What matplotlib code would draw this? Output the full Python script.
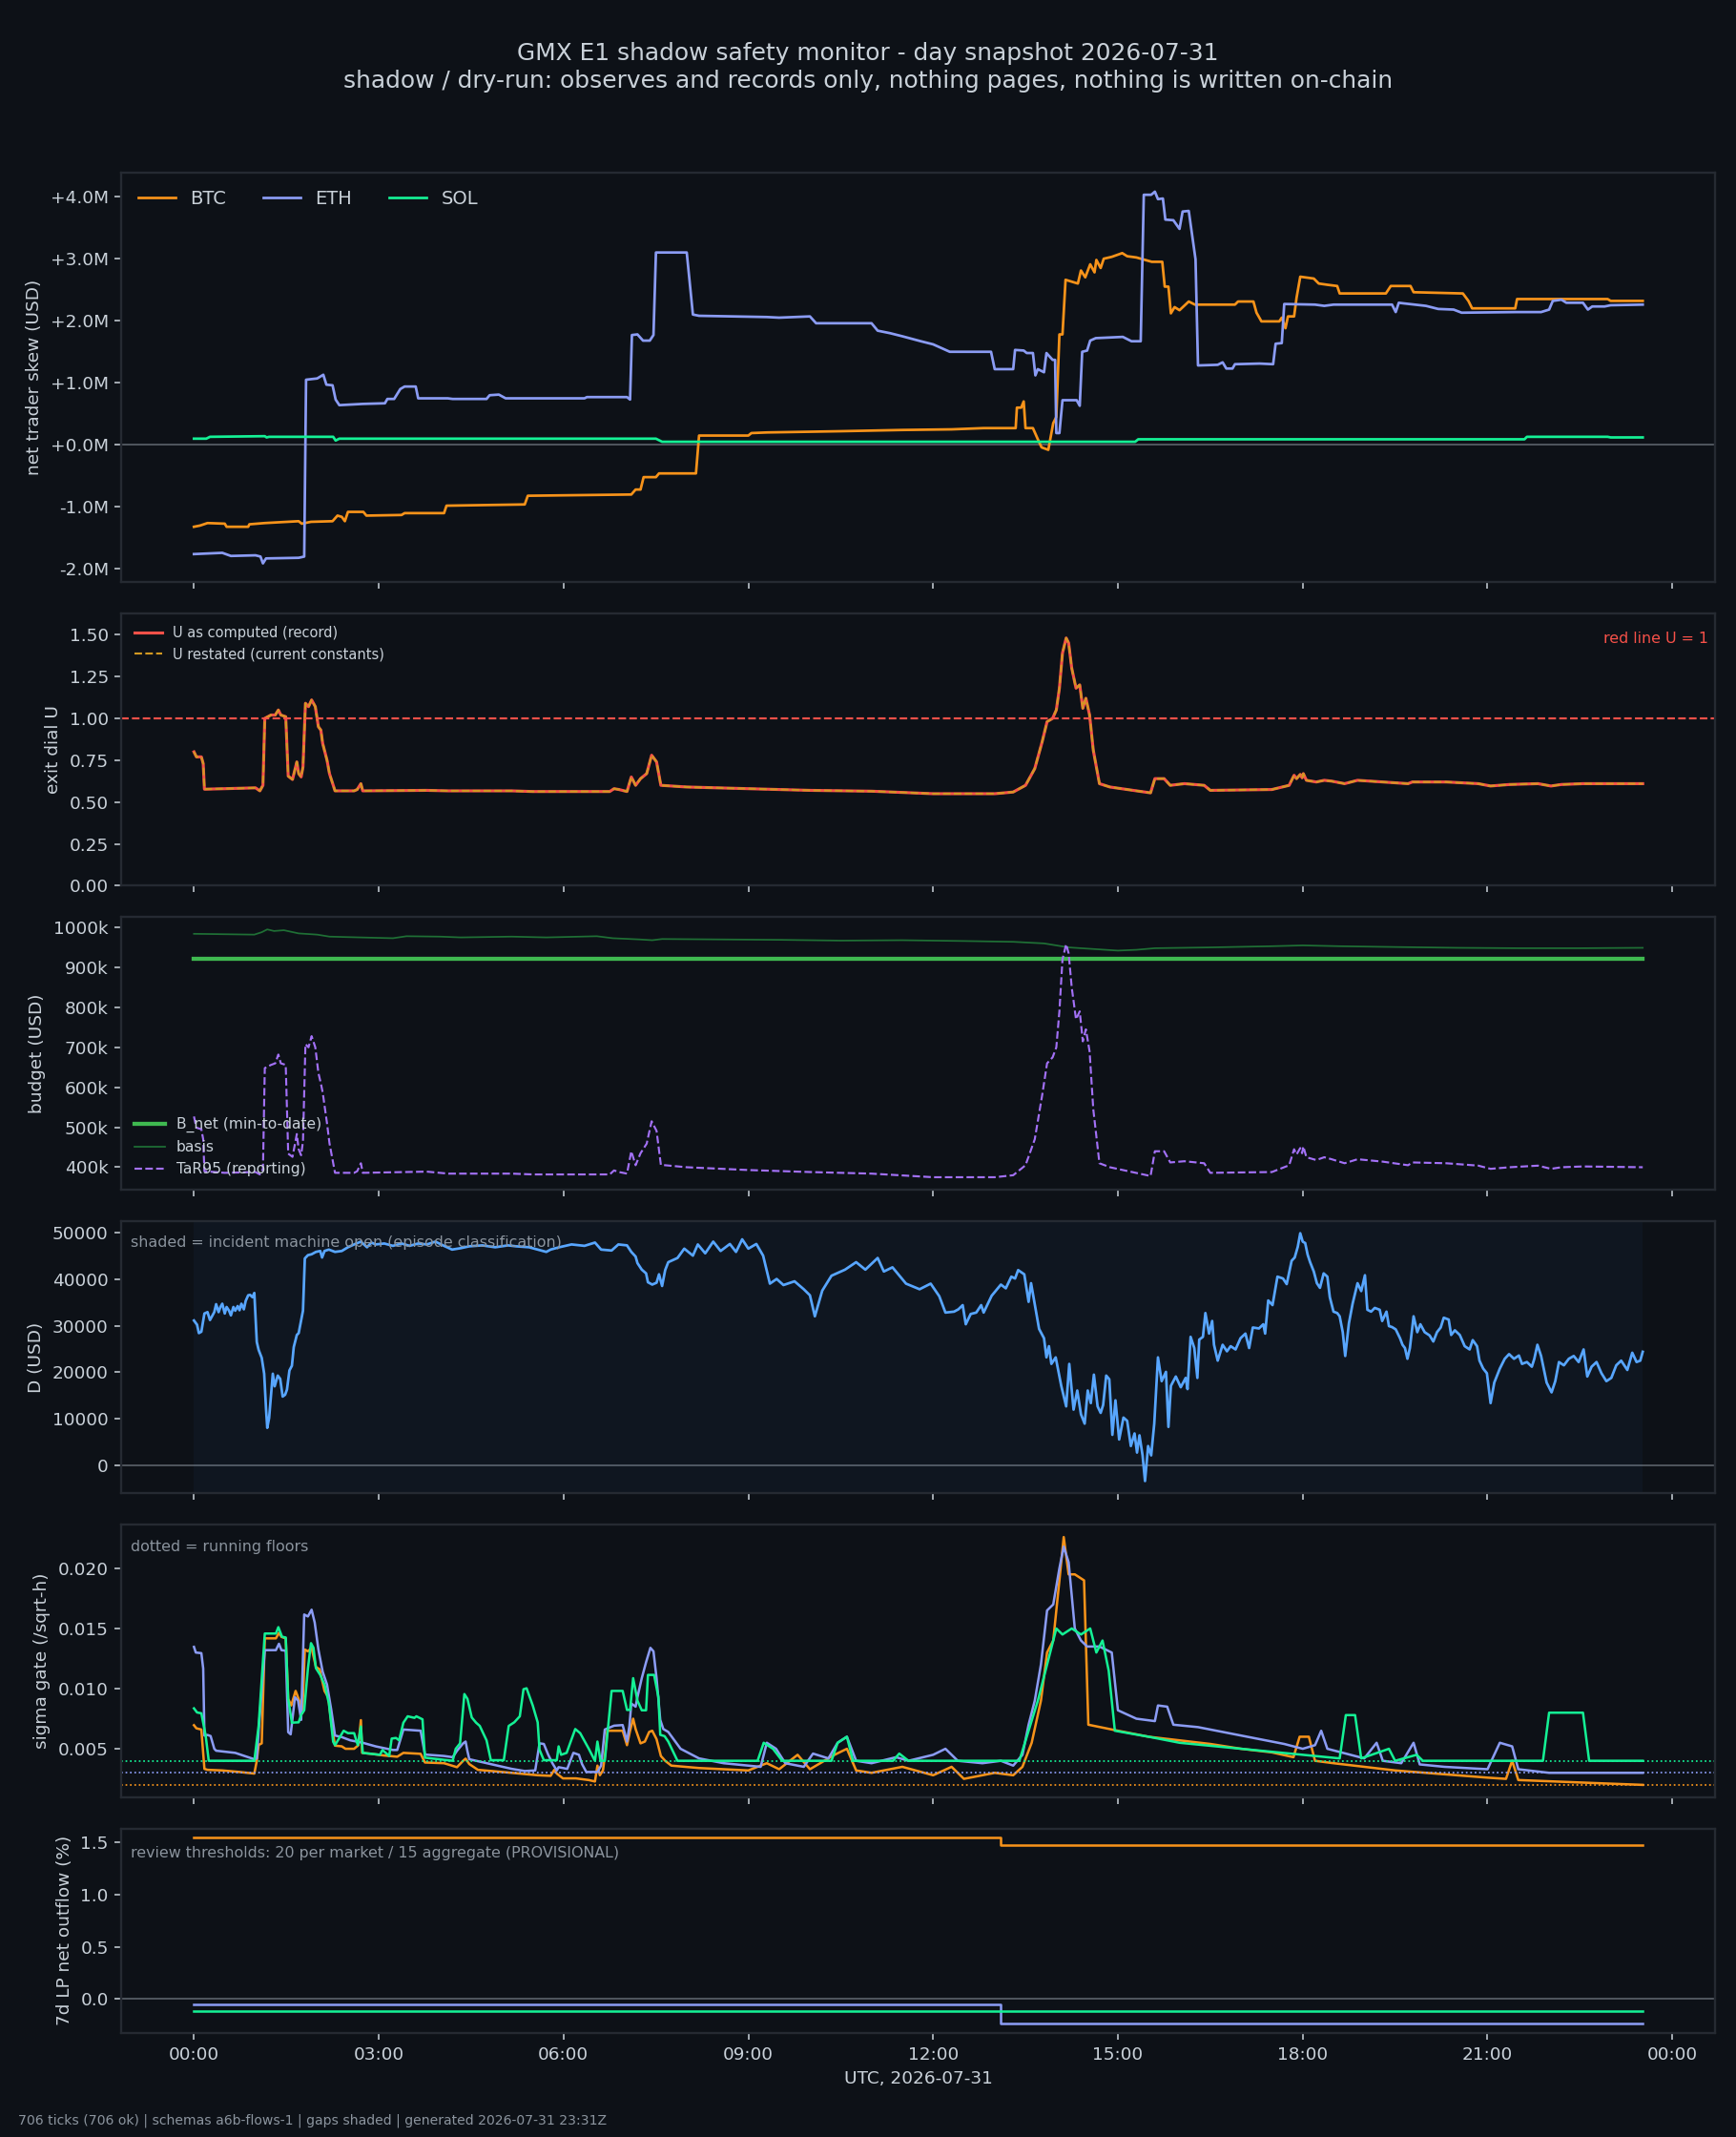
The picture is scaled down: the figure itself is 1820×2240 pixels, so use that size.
import numpy as np
import matplotlib
matplotlib.use("Agg")
import matplotlib.pyplot as plt
from matplotlib.ticker import MultipleLocator, FuncFormatter

# ---- colours
BG = '#0d1117'
FG = '#c9d1d9'
MUTED = '#8b949e'
SPINE = '#252a32'
ZERO = '#585e66'
C_BTC = '#f7931a'
C_ETH = '#8b9cf4'
C_SOL = '#14f195'

# ---- panel 1: net trader skew (hours, USD millions)
btc_skew = [(0, -1.32), (0.1, -1.30), (0.22, -1.26), (0.5, -1.27), (0.53, -1.32), (0.88, -1.32),
            (0.9, -1.28), (1.15, -1.26), (1.7, -1.23), (1.75, -1.27), (1.9, -1.24), (2.25, -1.23),
            (2.33, -1.14), (2.4, -1.16), (2.45, -1.23), (2.5, -1.08), (2.75, -1.08), (2.8, -1.14),
            (3.37, -1.13), (3.42, -1.10), (4.06, -1.10), (4.1, -0.98), (5.37, -0.96), (5.42, -0.82),
            (7.1, -0.80), (7.17, -0.72), (7.25, -0.72), (7.3, -0.52), (7.5, -0.52), (7.55, -0.46),
            (8.15, -0.46), (8.2, 0.15), (9.0, 0.15), (9.05, 0.19), (9.3, 0.20), (10.5, 0.22),
            (11.5, 0.24), (12.3, 0.25), (12.82, 0.27), (13.34, 0.27), (13.36, 0.60), (13.43, 0.60),
            (13.47, 0.70), (13.5, 0.27), (13.62, 0.27), (13.7, 0.09), (13.76, -0.04), (13.87, -0.08),
            (13.95, 0.35), (14.0, 0.45), (14.05, 1.78), (14.1, 1.78), (14.15, 2.66), (14.35, 2.60),
            (14.4, 2.81), (14.47, 2.70), (14.55, 2.91), (14.62, 2.78), (14.65, 2.98), (14.72, 2.85),
            (14.77, 3.00), (14.9, 3.03), (15.07, 3.09), (15.15, 3.04), (15.3, 3.02), (15.55, 2.95),
            (15.72, 2.95), (15.76, 2.55), (15.82, 2.55), (15.86, 2.12), (15.92, 2.22), (16.0, 2.17),
            (16.15, 2.31), (16.25, 2.26), (16.9, 2.26), (16.95, 2.31), (17.2, 2.31), (17.25, 2.13),
            (17.33, 1.99), (17.62, 1.99), (17.66, 2.05), (17.72, 1.88), (17.76, 2.07), (17.86, 2.07),
            (17.9, 2.37), (17.96, 2.71), (18.18, 2.68), (18.26, 2.60), (18.4, 2.58), (18.56, 2.56),
            (18.6, 2.44), (19.35, 2.44), (19.43, 2.56), (19.75, 2.56), (19.8, 2.46), (20.6, 2.44),
            (20.69, 2.32), (20.75, 2.20), (21.45, 2.20), (21.48, 2.35), (22.95, 2.35), (23.0, 2.32),
            (23.52, 2.32)]
eth_skew = [(0, -1.76), (0.46, -1.74), (0.6, -1.79), (1.0, -1.78), (1.08, -1.80), (1.12, -1.91),
            (1.17, -1.83), (1.7, -1.82), (1.79, -1.80), (1.82, 1.05), (2.0, 1.07), (2.1, 1.13),
            (2.15, 0.97), (2.25, 0.96), (2.3, 0.73), (2.36, 0.64), (2.74, 0.66), (3.1, 0.67),
            (3.14, 0.74), (3.25, 0.74), (3.35, 0.90), (3.42, 0.94), (3.6, 0.94), (3.64, 0.75),
            (4.12, 0.75), (4.2, 0.74), (4.75, 0.74), (4.8, 0.80), (4.95, 0.81), (5.06, 0.75),
            (6.34, 0.75), (6.38, 0.77), (7.03, 0.77), (7.08, 0.73), (7.11, 1.77), (7.2, 1.78),
            (7.29, 1.68), (7.4, 1.68), (7.46, 1.77), (7.5, 3.10), (8.0, 3.10), (8.1, 2.10),
            (8.2, 2.08), (9.3, 2.06), (9.5, 2.05), (10.0, 2.07), (10.1, 1.96), (11.0, 1.96),
            (11.1, 1.84), (11.3, 1.80), (11.5, 1.75), (11.8, 1.67), (12.0, 1.62), (12.27, 1.50),
            (12.94, 1.50), (13.0, 1.22), (13.3, 1.22), (13.33, 1.53), (13.47, 1.52), (13.52, 1.48),
            (13.62, 1.48), (13.66, 1.12), (13.7, 1.22), (13.8, 1.17), (13.84, 1.48), (13.94, 1.37),
            (13.98, 1.37), (14.0, 0.19), (14.05, 0.19), (14.1, 0.72), (14.33, 0.72), (14.38, 0.63),
            (14.42, 1.50), (14.5, 1.52), (14.55, 1.68), (14.64, 1.72), (15.08, 1.74), (15.22, 1.67),
            (15.37, 1.67), (15.42, 4.03), (15.54, 4.03), (15.6, 4.08), (15.65, 3.96), (15.73, 3.97),
            (15.77, 3.63), (15.9, 3.62), (16.0, 3.48), (16.05, 3.76), (16.15, 3.77), (16.26, 2.99),
            (16.3, 1.28), (16.62, 1.29), (16.7, 1.33), (16.76, 1.23), (16.86, 1.23), (16.9, 1.30),
            (17.3, 1.31), (17.52, 1.30), (17.56, 1.63), (17.66, 1.64), (17.7, 2.27), (18.2, 2.26),
            (18.35, 2.24), (18.5, 2.26), (19.45, 2.26), (19.51, 2.14), (19.56, 2.29), (19.64, 2.28),
            (20.0, 2.24), (20.2, 2.19), (20.45, 2.18), (20.58, 2.13), (21.46, 2.14), (21.87, 2.14),
            (22.0, 2.18), (22.06, 2.32), (22.2, 2.34), (22.28, 2.29), (22.55, 2.29), (22.63, 2.18),
            (22.7, 2.23), (22.9, 2.23), (23.0, 2.25), (23.52, 2.26)]
sol_skew = [(0, 0.10), (0.2, 0.10), (0.26, 0.13), (1.15, 0.14), (1.18, 0.12), (1.22, 0.13),
            (2.26, 0.13), (2.3, 0.07), (2.36, 0.10), (7.5, 0.10), (7.6, 0.05), (13.05, 0.05),
            (15.28, 0.05), (15.33, 0.09), (17.7, 0.09), (21.6, 0.09), (21.64, 0.13), (22.95, 0.13),
            (23.0, 0.12), (23.52, 0.12)]

# ---- panel 2/3: exit dial U and TaR95 (same tick times)
dial_t = [0, 0.04, 0.12, 0.15, 0.17, 0.5, 1.0, 1.07, 1.12, 1.15, 1.25, 1.32, 1.37, 1.41, 1.49,
          1.53, 1.6, 1.67, 1.7, 1.74, 1.77, 1.81, 1.86, 1.91, 1.97, 2.02, 2.06, 2.09, 2.16, 2.2,
          2.29, 2.6, 2.65, 2.71, 2.74, 3.78, 4.13, 5.16, 5.5, 6.75, 6.82, 6.9, 7.03, 7.1, 7.17,
          7.25, 7.35, 7.43, 7.51, 7.58, 8.0, 9.0, 10.0, 11.0, 12.0, 13.0, 13.3, 13.5, 13.65,
          13.77, 13.85, 13.94, 14.0, 14.05, 14.1, 14.16, 14.2, 14.25, 14.32, 14.38, 14.43, 14.48,
          14.54, 14.6, 14.7, 14.87, 15.53, 15.6, 15.75, 15.85, 16.08, 16.4, 16.5, 17.5, 17.78,
          17.86, 17.9, 17.96, 17.99, 18.01, 18.06, 18.22, 18.35, 18.47, 18.68, 18.89, 19.3, 19.71,
          19.78, 20.33, 20.85, 21.05, 21.36, 21.82, 22.03, 22.2, 22.55, 23.52]
u_record = [0.80, 0.77, 0.77, 0.73, 0.577, 0.58, 0.585, 0.567, 0.60, 1.00, 1.02, 1.02, 1.05, 1.02,
            1.01, 0.655, 0.635, 0.74, 0.67, 0.65, 0.71, 1.09, 1.07, 1.11, 1.07, 0.95, 0.93, 0.85,
            0.75, 0.67, 0.567, 0.567, 0.575, 0.61, 0.567, 0.57, 0.567, 0.567, 0.563, 0.563, 0.58,
            0.575, 0.563, 0.65, 0.60, 0.64, 0.67, 0.78, 0.74, 0.60, 0.59, 0.58, 0.57, 0.565, 0.55,
            0.55, 0.56, 0.60, 0.70, 0.86, 0.98, 1.00, 1.05, 1.18, 1.39, 1.48, 1.45, 1.30, 1.18,
            1.20, 1.06, 1.12, 1.02, 0.81, 0.61, 0.59, 0.555, 0.64, 0.64, 0.60, 0.61, 0.60, 0.57,
            0.575, 0.60, 0.66, 0.64, 0.665, 0.645, 0.67, 0.63, 0.62, 0.63, 0.625, 0.61, 0.63, 0.62,
            0.61, 0.62, 0.62, 0.61, 0.596, 0.605, 0.61, 0.596, 0.605, 0.61, 0.61]
u_restated = list(u_record)
tar95_k = [527, 499, 495, 470, 390, 386, 388, 382, 395, 648, 656, 660, 682, 660, 656, 434, 426,
           483, 445, 430, 465, 708, 700, 728, 700, 636, 610, 587, 510, 460, 386, 386, 390, 410,
           386, 389, 384, 384, 382, 382, 392, 388, 384, 440, 405, 435, 459, 515, 491, 406, 400,
           393, 388, 384, 375, 375, 380, 405, 470, 580, 660, 675, 700, 790, 920, 958, 935, 850,
           770, 790, 715, 745, 690, 545, 410, 400, 378, 440, 440, 412, 415, 410, 386, 388, 405,
           445, 432, 448, 435, 452, 425, 418, 425, 420, 410, 420, 414, 405, 412, 410, 404, 396,
           400, 404, 396, 400, 402, 400]
basis_k = [(0, 984), (0.98, 982), (1.1, 988), (1.19, 995), (1.3, 991), (1.46, 993), (1.7, 985),
           (2.0, 982), (2.2, 977), (2.7, 975), (3.23, 973), (3.45, 978), (4.0, 977), (4.33, 975),
           (5.16, 977), (5.72, 975), (6.0, 976), (6.54, 978), (6.8, 973), (7.23, 970), (7.44, 968),
           (7.6, 971), (8.5, 970), (9.5, 969), (10.5, 967), (11.5, 968), (12.5, 966), (13.3, 964),
           (13.8, 960), (14.2, 950), (14.6, 946), (15.0, 942), (15.3, 944), (15.6, 948), (16.5, 950),
           (17.5, 953), (18.0, 955), (18.6, 953), (19.5, 951), (20.5, 949), (21.5, 948), (22.5, 948),
           (23.52, 949)]
b_net_k = [(0, 922), (23.52, 922)]

# ---- panel 4: D (hours, USD thousands)
d_k = [(0, 31.1), (0.05, 30.2), (0.08, 28.4), (0.12, 28.7), (0.17, 32.6), (0.22, 32.9), (0.26, 31.2),
       (0.33, 32.9), (0.36, 34.6), (0.4, 32.9), (0.43, 34.0), (0.46, 34.7), (0.5, 32.6), (0.53, 34.0),
       (0.57, 33.2), (0.6, 32.2), (0.64, 34.0), (0.67, 33.2), (0.71, 34.2), (0.74, 33.3), (0.77, 34.7),
       (0.81, 33.5), (0.84, 35.3), (0.88, 36.5), (0.91, 36.6), (0.95, 36.1), (0.98, 37.0),
       (1.02, 26.5), (1.05, 24.8), (1.1, 23.1), (1.14, 19.7), (1.17, 12.2), (1.19, 8.1), (1.22, 10.2),
       (1.28, 19.7), (1.31, 17.0), (1.36, 19.3), (1.4, 18.6), (1.44, 14.8), (1.48, 15.2), (1.51, 16.3),
       (1.55, 20.4), (1.59, 21.4), (1.62, 25.4), (1.67, 28.0), (1.7, 28.4), (1.74, 31.2), (1.77, 33.2),
       (1.8, 44.4), (1.85, 45.1), (1.91, 45.3), (1.98, 45.8), (2.05, 46.0), (2.08, 44.6), (2.12, 46.0),
       (2.19, 46.3), (2.29, 45.8), (2.4, 46.0), (2.5, 46.8), (2.6, 47.4), (2.71, 48.0), (2.81, 46.8),
       (2.88, 47.8), (2.95, 47.4), (3.09, 47.6), (3.23, 47.1), (3.37, 47.6), (3.5, 47.1), (3.64, 47.6),
       (3.78, 47.4), (3.92, 48.0), (4.06, 47.1), (4.19, 46.3), (4.33, 46.6), (4.47, 47.0), (4.68, 47.2),
       (4.89, 46.8), (5.1, 47.2), (5.23, 47.0), (5.44, 46.8), (5.58, 46.3), (5.72, 45.8), (5.79, 46.3),
       (5.93, 46.8), (6.13, 47.4), (6.34, 47.1), (6.51, 47.8), (6.61, 46.3), (6.78, 46.1), (6.89, 47.4),
       (7.03, 47.2), (7.1, 45.8), (7.17, 44.8), (7.2, 43.4), (7.27, 42.0), (7.34, 41.2), (7.37, 39.3),
       (7.44, 38.8), (7.51, 39.2), (7.55, 41.0), (7.6, 38.5), (7.65, 41.9), (7.7, 43.6), (7.85, 44.5),
       (7.96, 46.5), (8.1, 45.0), (8.18, 47.4), (8.3, 45.5), (8.43, 48.0), (8.55, 46.0), (8.7, 47.5),
       (8.8, 45.8), (8.9, 48.5), (9.0, 46.5), (9.13, 47.5), (9.24, 45.0), (9.35, 39.0), (9.46, 40.0),
       (9.57, 38.7), (9.75, 39.5), (9.9, 37.8), (10.0, 36.5), (10.08, 32.0), (10.2, 37.5),
       (10.35, 40.7), (10.57, 42.0), (10.75, 43.6), (10.9, 42.0), (11.1, 44.5), (11.2, 41.6),
       (11.34, 42.5), (11.56, 39.0), (11.78, 37.8), (11.96, 39.0), (12.1, 36.3), (12.2, 32.8),
       (12.34, 33.0), (12.41, 33.5), (12.48, 34.4), (12.53, 30.3), (12.61, 32.5), (12.7, 32.8),
       (12.78, 34.4), (12.82, 32.8), (12.95, 36.4), (13.1, 38.8), (13.18, 38.0), (13.27, 40.5),
       (13.33, 40.1), (13.38, 41.9), (13.48, 41.0), (13.55, 35.1), (13.59, 39.1), (13.67, 33.0),
       (13.72, 29.3), (13.8, 27.3), (13.84, 23.2), (13.88, 25.6), (13.92, 21.8), (13.99, 23.2),
       (14.02, 21.2), (14.08, 17.1), (14.16, 12.7), (14.21, 21.8), (14.28, 12.0), (14.34, 16.1),
       (14.4, 11.0), (14.46, 9.0), (14.51, 16.1), (14.56, 13.4), (14.61, 19.5), (14.67, 12.7),
       (14.72, 11.3), (14.76, 13.0), (14.81, 19.3), (14.86, 18.5), (14.91, 6.6), (14.96, 14.0),
       (15.02, 5.6), (15.09, 10.3), (15.15, 9.6), (15.21, 4.2), (15.27, 6.9), (15.31, 2.8),
       (15.35, 6.5), (15.4, 2.2), (15.44, -3.3), (15.49, 4.2), (15.54, 2.2), (15.59, 9.0),
       (15.65, 23.2), (15.71, 18.1), (15.78, 20.1), (15.82, 8.3), (15.86, 17.1), (15.94, 19.1),
       (16.02, 16.8), (16.1, 18.8), (16.13, 16.4), (16.18, 27.6), (16.24, 25.2), (16.29, 18.8),
       (16.32, 27.0), (16.38, 27.6), (16.42, 32.7), (16.48, 28.3), (16.53, 31.0), (16.56, 25.9),
       (16.62, 22.5), (16.7, 25.9), (16.77, 24.5), (16.83, 25.6), (16.91, 24.9), (16.99, 27.3),
       (17.07, 28.3), (17.13, 25.2), (17.19, 29.6), (17.29, 29.4), (17.36, 30.3), (17.39, 28.3),
       (17.44, 35.4), (17.51, 34.4), (17.59, 40.5), (17.68, 40.1), (17.74, 38.9), (17.82, 43.9),
       (17.87, 44.6), (17.92, 46.9), (17.96, 49.8), (18.0, 48.0), (18.04, 47.7), (18.08, 45.2),
       (18.12, 43.6), (18.18, 41.6), (18.23, 39.1), (18.28, 38.1), (18.34, 41.2), (18.4, 40.5),
       (18.44, 36.1), (18.5, 33.0), (18.56, 32.7), (18.6, 32.0), (18.65, 28.6), (18.69, 23.5),
       (18.75, 30.5), (18.81, 34.7), (18.89, 39.1), (18.95, 37.4), (19.01, 40.8), (19.05, 33.4),
       (19.11, 33.0), (19.17, 33.8), (19.25, 33.4), (19.29, 31.0), (19.36, 33.0), (19.4, 29.9),
       (19.45, 29.7), (19.51, 29.2), (19.58, 27.3), (19.62, 25.9), (19.66, 25.2), (19.7, 22.9),
       (19.74, 25.2), (19.8, 32.0), (19.86, 28.6), (19.91, 30.3), (19.98, 28.6), (20.06, 27.9),
       (20.12, 26.6), (20.18, 28.6), (20.24, 29.6), (20.29, 31.7), (20.37, 31.3), (20.41, 28.0),
       (20.47, 29.0), (20.55, 28.0), (20.63, 25.6), (20.71, 24.9), (20.76, 26.9), (20.83, 25.6),
       (20.87, 22.5), (20.93, 20.8), (20.99, 19.8), (21.05, 13.4), (21.11, 17.8), (21.2, 20.8),
       (21.28, 22.9), (21.35, 23.9), (21.43, 22.9), (21.51, 23.6), (21.56, 21.8), (21.64, 22.2),
       (21.72, 21.2), (21.76, 22.9), (21.81, 25.9), (21.87, 23.5), (21.96, 17.8), (22.04, 15.7),
       (22.1, 18.1), (22.16, 22.2), (22.24, 21.5), (22.32, 22.9), (22.4, 23.5), (22.48, 22.2),
       (22.56, 24.9), (22.62, 19.1), (22.69, 21.2), (22.77, 22.2), (22.85, 19.8), (22.93, 18.1),
       (23.01, 18.8), (23.09, 21.5), (23.17, 22.5), (23.27, 20.5), (23.35, 24.2), (23.42, 22.2),
       (23.48, 22.5), (23.52, 24.4)]
episode_open = (0, 23.52)

# ---- panel 5: sigma gate (hours, 1e-3 /sqrt-h) and running floors
eth_sig = [(0, 13.47), (0.03, 13.0), (0.12, 12.95), (0.15, 11.67), (0.17, 6.1), (0.22, 6.15),
           (0.27, 6.06), (0.33, 5.0), (0.36, 4.84), (0.67, 4.66), (0.98, 4.13), (1.02, 4.2),
           (1.05, 6.5), (1.15, 13.2), (1.33, 13.2), (1.38, 13.73), (1.42, 13.2), (1.49, 13.15),
           (1.53, 6.38), (1.57, 6.2), (1.64, 9.29), (1.69, 9.0), (1.74, 7.4), (1.79, 16.16),
           (1.85, 16.0), (1.91, 16.56), (1.96, 15.5), (2.02, 13.25), (2.09, 11.4), (2.16, 10.34),
           (2.23, 8.2), (2.29, 6.1), (2.4, 5.97), (2.54, 5.7), (2.74, 5.5), (2.95, 5.2), (3.23, 4.9),
           (3.3, 4.9), (3.4, 6.6), (3.68, 6.5), (3.75, 4.52), (4.06, 4.4), (4.2, 4.3), (4.27, 4.83),
           (4.37, 5.45), (4.41, 5.6), (4.44, 4.8), (4.47, 4.13), (5.16, 3.33), (5.37, 3.15),
           (5.54, 3.2), (5.61, 5.45), (5.68, 5.4), (5.75, 4.52), (5.82, 3.79), (5.89, 3.2),
           (5.92, 3.47), (6.06, 3.33), (6.16, 4.66), (6.25, 4.5), (6.3, 3.73), (6.37, 3.07),
           (6.55, 3.07), (6.61, 3.6), (6.67, 6.6), (6.82, 6.92), (6.96, 6.97), (7.03, 5.6),
           (7.07, 6.92), (7.1, 8.76), (7.17, 8.5), (7.2, 9.3), (7.27, 10.87), (7.34, 12.2),
           (7.41, 13.39), (7.46, 13.1), (7.51, 10.87), (7.57, 7.4), (7.62, 6.64), (7.7, 6.4),
           (7.9, 5.0), (8.2, 4.2), (8.6, 3.8), (9.0, 3.6), (9.2, 3.5), (9.3, 5.5), (9.45, 5.0),
           (9.6, 3.8), (9.9, 3.5), (10.05, 4.6), (10.3, 4.2), (10.45, 5.5), (10.6, 6.0), (10.75, 4.0),
           (11.0, 3.8), (11.4, 4.3), (11.6, 4.0), (12.0, 4.5), (12.2, 5.0), (12.4, 4.0), (12.8, 3.8),
           (13.1, 4.0), (13.3, 3.6), (13.45, 4.5), (13.55, 7.0), (13.65, 9.0), (13.75, 12.0),
           (13.85, 16.5), (13.95, 17.0), (14.05, 20.0), (14.12, 21.8), (14.2, 20.5), (14.3, 15.0),
           (14.4, 14.0), (14.5, 13.5), (14.7, 13.5), (14.9, 13.0), (15.0, 8.2), (15.3, 7.5),
           (15.6, 7.3), (15.65, 8.6), (15.8, 8.5), (15.9, 7.0), (16.3, 6.8), (16.8, 6.3), (17.3, 5.8),
           (17.7, 5.4), (18.0, 5.0), (18.2, 5.3), (18.3, 6.5), (18.4, 5.0), (18.7, 4.6), (19.0, 4.2),
           (19.2, 5.5), (19.3, 4.0), (19.6, 3.8), (19.8, 5.5), (19.9, 3.7), (20.3, 3.5), (21.0, 3.3),
           (21.2, 5.5), (21.4, 5.2), (21.5, 3.3), (22.0, 3.0), (23.52, 3.0)]
sol_sig = [(0, 8.36), (0.05, 8.02), (0.12, 7.95), (0.19, 6.1), (0.24, 4.0), (0.98, 4.0), (1.05, 6.9),
           (1.15, 14.58), (1.33, 14.58), (1.37, 15.11), (1.43, 14.31), (1.49, 14.25), (1.53, 9.15),
           (1.59, 7.17), (1.7, 7.2), (1.74, 7.83), (1.79, 8.2), (1.85, 11.67), (1.9, 13.78),
           (1.94, 13.4), (1.98, 11.7), (2.05, 11.14), (2.12, 10.34), (2.19, 8.8), (2.26, 5.58),
           (2.29, 5.3), (2.36, 5.9), (2.43, 6.5), (2.5, 6.3), (2.6, 6.3), (2.66, 5.3), (2.71, 6.85),
           (2.74, 4.66), (3.02, 4.5), (3.06, 4.9), (3.17, 4.4), (3.21, 5.85), (3.28, 5.9), (3.33, 5.7),
           (3.4, 7.17), (3.47, 7.7), (3.58, 7.57), (3.61, 7.7), (3.71, 7.45), (3.75, 4.26), (4.2, 4.0),
           (4.25, 5.0), (4.32, 5.45), (4.39, 9.55), (4.44, 9.15), (4.51, 7.6), (4.58, 7.17),
           (4.64, 6.9), (4.75, 5.7), (4.82, 4.05), (5.03, 4.05), (5.11, 6.9), (5.2, 7.2), (5.29, 7.7),
           (5.35, 9.95), (5.4, 10.03), (5.5, 8.6), (5.58, 7.2), (5.61, 4.92), (5.68, 4.05),
           (5.89, 4.05), (5.92, 5.2), (5.96, 4.5), (6.05, 4.66), (6.19, 6.64), (6.27, 6.3),
           (6.41, 5.0), (6.51, 4.0), (6.55, 5.6), (6.6, 4.0), (6.67, 4.0), (6.78, 9.81), (6.96, 9.81),
           (7.03, 8.23), (7.08, 8.23), (7.13, 10.87), (7.2, 9.0), (7.27, 8.2), (7.34, 8.2),
           (7.37, 11.14), (7.47, 11.14), (7.54, 9.3), (7.57, 6.16), (7.64, 6.05), (7.7, 5.6),
           (7.85, 4.0), (9.15, 4.0), (9.25, 5.5), (9.4, 5.0), (9.55, 4.0), (10.35, 4.0), (10.45, 5.5),
           (10.6, 6.0), (10.7, 4.0), (11.35, 4.0), (11.45, 4.6), (11.6, 4.0), (13.4, 4.0), (13.55, 6.5),
           (13.7, 9.0), (13.85, 12.0), (14.0, 15.0), (14.1, 14.5), (14.25, 15.0), (14.4, 14.5),
           (14.55, 15.0), (14.65, 13.0), (14.75, 14.0), (14.85, 11.5), (14.95, 6.5), (15.5, 6.0),
           (16.0, 5.5), (17.0, 5.0), (18.0, 4.5), (18.6, 4.2), (18.7, 7.8), (18.85, 7.8), (18.95, 4.2),
           (19.4, 5.0), (19.5, 4.0), (19.85, 4.5), (19.95, 4.0), (21.9, 4.0), (22.0, 8.0), (22.55, 8.0),
           (22.65, 4.0), (23.52, 4.0)]
btc_sig = [(0, 6.96), (0.04, 6.7), (0.12, 6.6), (0.17, 3.33), (0.22, 3.25), (0.46, 3.2), (0.74, 3.07),
           (0.98, 2.94), (1.02, 4.0), (1.05, 5.32), (1.1, 5.45), (1.15, 14.18), (1.33, 14.18),
           (1.38, 14.63), (1.42, 14.3), (1.49, 14.18), (1.53, 9.15), (1.58, 8.6), (1.65, 9.81),
           (1.71, 9.0), (1.76, 7.96), (1.8, 13.25), (1.85, 13.1), (1.91, 13.39), (1.98, 11.8),
           (2.04, 11.61), (2.12, 9.8), (2.18, 9.29), (2.23, 7.17), (2.29, 5.26), (2.4, 5.2),
           (2.46, 5.0), (2.6, 5.0), (2.67, 5.3), (2.71, 7.38), (2.73, 4.66), (2.88, 4.58), (3.09, 4.44),
           (3.3, 4.34), (3.4, 4.66), (3.68, 4.58), (3.75, 3.86), (4.06, 3.8), (4.27, 3.47), (4.37, 4.0),
           (4.41, 4.18), (4.47, 3.73), (4.61, 3.25), (5.16, 3.0), (5.58, 2.8), (5.79, 2.75),
           (5.85, 3.25), (5.89, 2.94), (5.99, 2.54), (6.2, 2.54), (6.41, 2.4), (6.51, 2.28),
           (6.55, 3.6), (6.59, 2.8), (6.64, 3.2), (6.68, 4.8), (6.71, 6.5), (6.96, 6.5), (7.03, 5.3),
           (7.08, 6.5), (7.13, 7.5), (7.17, 6.64), (7.25, 5.45), (7.32, 5.6), (7.39, 6.4), (7.44, 6.5),
           (7.51, 5.8), (7.58, 4.4), (7.65, 4.0), (7.75, 3.6), (8.2, 3.4), (9.0, 3.2), (9.3, 3.8),
           (9.5, 3.3), (9.8, 4.5), (10.0, 3.3), (10.4, 4.5), (10.6, 5.0), (10.75, 3.2), (11.0, 3.0),
           (11.5, 3.5), (12.0, 2.8), (12.3, 3.5), (12.5, 2.5), (13.0, 3.0), (13.3, 2.8), (13.45, 3.5),
           (13.6, 5.5), (13.75, 9.0), (13.85, 13.0), (13.95, 14.0), (14.05, 19.0), (14.12, 22.6),
           (14.2, 19.5), (14.3, 19.5), (14.45, 19.0), (14.52, 7.0), (15.0, 6.5), (15.5, 6.0),
           (16.0, 5.7), (16.5, 5.4), (17.0, 5.0), (17.5, 4.7), (17.85, 4.3), (17.95, 6.0), (18.1, 6.0),
           (18.2, 4.0), (18.5, 3.8), (19.0, 3.5), (19.5, 3.2), (20.0, 3.0), (20.5, 2.8), (21.0, 2.6),
           (21.3, 2.5), (21.4, 4.0), (21.5, 2.4), (22.0, 2.3), (22.5, 2.2), (23.0, 2.1), (23.52, 2.0)]
sig_floors = {'BTC': 2.0, 'ETH': 3.0, 'SOL': 4.0}

# ---- panel 6: 7d LP net outflow (%)
btc_lp = [(0, 1.545), (13.1, 1.545), (13.1, 1.474), (23.52, 1.474)]
eth_lp = [(0, -0.052), (13.1, -0.052), (13.1, -0.238), (23.52, -0.238)]
sol_lp = [(0, -0.122), (13.1, -0.122), (13.1, -0.121), (23.52, -0.121)]


def unzip(pairs):
    t, v = zip(*pairs)
    return np.array(t, float), np.array(v, float)


plt.rcParams.update({
    'font.family': 'DejaVu Sans',
    'figure.facecolor': BG, 'axes.facecolor': BG, 'savefig.facecolor': BG,
    'axes.edgecolor': SPINE, 'axes.labelcolor': FG, 'text.color': FG,
    'xtick.color': FG, 'ytick.color': FG,
    'xtick.labelsize': 9.5, 'ytick.labelsize': 9.5, 'axes.labelsize': 9.5,
    'axes.linewidth': 1.2,
})

fig, axes = plt.subplots(6, 1, figsize=(13, 16), dpi=140, sharex=True,
                         gridspec_kw=dict(height_ratios=[1.5, 1, 1, 1, 1, 0.75], hspace=0.11,
                                          left=0.070, right=0.988, top=0.919, bottom=0.0487))
ax1, ax2, ax3, ax4, ax5, ax6 = axes

# panel 1
for pairs, c, lab in [(btc_skew, C_BTC, 'BTC'), (eth_skew, C_ETH, 'ETH'), (sol_skew, C_SOL, 'SOL')]:
    t, v = unzip(pairs)
    ax1.plot(t, v, color=c, lw=1.4, label=lab)
ax1.axhline(0, color=ZERO, lw=0.9, zorder=0)
ax1.yaxis.set_major_formatter(FuncFormatter(lambda v, _: f"{v:+.1f}M"))
ax1.set_ylabel('net trader skew (USD)')
ax1.legend(loc='upper left', ncol=3, frameon=False, fontsize=10, labelcolor=FG)

# panel 2
ax2.plot(dial_t, u_record, color='#f85149', lw=1.6, label='U as computed (record)')
ax2.plot(dial_t, u_restated, color='#d29922', lw=1.1, ls='--', label='U restated (current constants)')
ax2.axhline(1.0, color='#f85149', lw=1.1, ls='--')
ax2.set_ylim(0, 1.1 * max(u_record))
ax2.set_ylabel('exit dial U')
ax2.legend(loc='upper left', frameon=False, fontsize=7.5, labelcolor=FG)
ax2.text(0.996, 0.905, 'red line U = 1', transform=ax2.transAxes, ha='right', va='center',
         color='#f85149', fontsize=8.2)

# panel 3
t, v = unzip(b_net_k)
ax3.plot(t, v, color='#3fb950', lw=2.2, label='B_net (min-to-date)')
t, v = unzip(basis_k)
ax3.plot(t, v, color='#1f6f35', lw=0.9, label='basis')
ax3.plot(dial_t, tar95_k, color='#a371f7', lw=1.1, ls='--', label='TaR95 (reporting)')
ax3.yaxis.set_major_formatter(FuncFormatter(lambda v, _: f"{v:.0f}k"))
ax3.set_ylabel('budget (USD)')
ax3.legend(loc='lower left', frameon=False, fontsize=8, labelcolor=FG)

# panel 4
ax4.axvspan(*episode_open, color='#58a6ff', alpha=0.04, lw=0)
t, v = unzip(d_k)
ax4.plot(t, v * 1000, color='#58a6ff', lw=1.4)
ax4.axhline(0, color=ZERO, lw=0.9, zorder=0)
ax4.set_ylabel('D (USD)')
ax4.text(0.006, 0.92, 'shaded = incident machine open (episode classification)',
         transform=ax4.transAxes, va='center', color=MUTED, fontsize=8.2)

# panel 5
for pairs, c, key in [(btc_sig, C_BTC, 'BTC'), (eth_sig, C_ETH, 'ETH'), (sol_sig, C_SOL, 'SOL')]:
    t, v = unzip(pairs)
    ax5.plot(t, v / 1000, color=c, lw=1.3)
    ax5.axhline(sig_floors[key] / 1000, color=c, lw=0.9, ls=':')
ax5.set_ylabel('sigma gate (/sqrt-h)')
ax5.text(0.006, 0.92, 'dotted = running floors', transform=ax5.transAxes, va='center',
         color=MUTED, fontsize=8.2)

# panel 6
for pairs, c in [(btc_lp, C_BTC), (eth_lp, C_ETH), (sol_lp, C_SOL)]:
    t, v = unzip(pairs)
    ax6.plot(t, v, color=c, lw=1.3)
ax6.axhline(0, color=ZERO, lw=0.9, zorder=0)
ax6.set_ylabel('7d LP net outflow (%)')
ax6.text(0.006, 0.88, 'review thresholds: 20 per market / 15 aggregate (PROVISIONAL)',
         transform=ax6.transAxes, va='center', color=MUTED, fontsize=8.2)

ax6.xaxis.set_major_locator(MultipleLocator(3))
ax6.xaxis.set_major_formatter(FuncFormatter(lambda h, _: f"{int(round(h)) % 24:02d}:00"))
ax6.set_xlabel('UTC, 2026-07-31')

for ax in axes:
    for s in ax.spines.values():
        s.set_color(SPINE)
    ax.tick_params(colors=FG, which='both')

fig.suptitle('GMX E1 shadow safety monitor - day snapshot 2026-07-31\n'
             'shadow / dry-run: observes and records only, nothing pages, nothing is written on-chain',
             y=0.9805, fontsize=12.8, color=FG, linespacing=1.3)
fig.text(0.0105, 0.0075, '706 ticks (706 ok) | schemas a6b-flows-1 | gaps shaded | generated 2026-07-31 23:31Z',
         fontsize=7.2, color=MUTED, ha='left', va='center')

fig.savefig('out.png', dpi=140, facecolor=BG)
